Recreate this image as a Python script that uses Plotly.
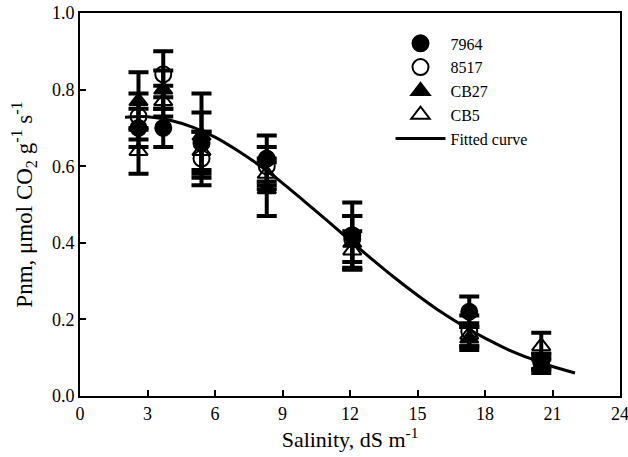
import plotly.graph_objects as go

salinity = [2.6, 3.7, 5.4, 8.3, 12.1, 17.3, 20.5]

p7964 = [0.70, 0.70, 0.66, 0.62, 0.42, 0.22, 0.09]
e7964 = [0.05, 0.05, 0.08, 0.06, 0.085, 0.04, 0.02]
p8517 = [0.73, 0.84, 0.62, 0.60, 0.41, 0.17, 0.09]
e8517 = [0.06, 0.06, 0.07, 0.05, 0.06, 0.04, 0.02]
pCB27 = [0.77, 0.80, 0.68, 0.54, 0.40, 0.15, 0.08]
eCB27 = [0.075, 0.05, 0.11, 0.07, 0.07, 0.03, 0.02]
pCB5 = [0.64, 0.77, 0.64, 0.58, 0.38, 0.16, 0.13]
eCB5 = [0.06, 0.04, 0.05, 0.04, 0.05, 0.03, 0.035]

fit_x = [2, 3, 4, 5, 6, 7, 8, 9, 10, 11, 12, 13, 14, 15, 16, 17, 18, 19, 20, 21, 22]
fit_y = [0.728, 0.729, 0.720, 0.702, 0.676, 0.641, 0.601, 0.556, 0.507, 0.457, 0.406,
         0.356, 0.308, 0.263, 0.221, 0.184, 0.151, 0.122, 0.098, 0.077, 0.060]

FONT = "Liberation Serif"

fig = go.Figure()

series = [
    ("7964", p7964, e7964, "circle"),
    ("8517", p8517, e8517, "circle-open"),
    ("CB27", pCB27, eCB27, "triangle-up"),
    ("CB5", pCB5, eCB5, "triangle-up-open"),
]
for name, ys, es, sym in series:
    fig.add_trace(go.Scatter(
        x=salinity, y=ys, mode="markers", name=name,
        marker=dict(symbol=sym, size=16, color="black", line=dict(width=2, color="black")),
        error_y=dict(type="data", array=es, visible=True, color="black", thickness=4, width=10),
    ))

fig.add_trace(go.Scatter(
    x=fit_x, y=fit_y, mode="lines", name="Fitted curve",
    line=dict(color="black", width=3, shape="spline"),
))

fig.update_layout(
    width=628, height=457,
    margin=dict(l=80, r=8, t=13, b=61, autoexpand=False),
    paper_bgcolor="white", plot_bgcolor="white",
    font=dict(family=FONT, size=18, color="black"),
    showlegend=True,
    legend=dict(x=0.575, y=0.965, xanchor="left", yanchor="top",
                font=dict(family=FONT, size=16, color="black"),
                itemwidth=50,
                bgcolor="rgba(0,0,0,0)", tracegroupgap=0),
    xaxis=dict(range=[0, 24], tickvals=[0, 3, 6, 9, 12, 15, 18, 21, 24],
               ticks="inside", ticklen=6, tickwidth=2, tickcolor="black",
               showline=True, linewidth=2, linecolor="black", mirror=True,
               showgrid=False, zeroline=False, automargin=False,
               ticklabeloverflow="allow",
               tickfont=dict(family=FONT, size=18),
               title=dict(text="Salinity, dS m<sup>-1</sup>", font=dict(family=FONT, size=22), standoff=6)),
    yaxis=dict(range=[0, 1.0], tickvals=[0, 0.2, 0.4, 0.6, 0.8, 1.0], tickformat=".1f",
               ticks="inside", ticklen=6, tickwidth=2, tickcolor="black",
               showline=True, linewidth=2, linecolor="black", mirror=True,
               showgrid=False, zeroline=False, automargin=False,
               tickfont=dict(family=FONT, size=18),
               title=dict(text="Pnm, \u03bcmol CO<sub>2</sub> g<sup>-1</sup> s<sup>-1</sup>",
                          font=dict(family=FONT, size=23), standoff=13)),
)

fig.write_html("out.html")
